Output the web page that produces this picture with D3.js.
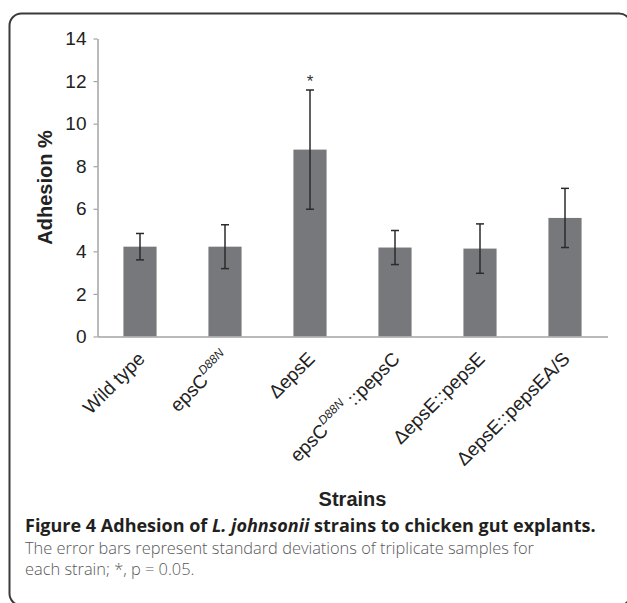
<!DOCTYPE html>
<html lang="en">
<meta charset="utf-8">
<head>
    <script src="https://d3js.org/d3.v7.min.js"></script>
    <style>
        body { margin: 0; background: #fff; }
        svg { display: block; }
    </style>
</head>
<body>
<script>

// strains (x categories) and their measured adhesion
const strains = ["Wild type", "epsC D88N", "ΔepsE", "epsC D88N::pepsC", "ΔepsE::pepsE", "ΔepsE::pepsEA/S"];
const adhesion = [4.22, 4.22, 8.78, 4.18, 4.13, 5.57];
const stdev = [0.62, 1.03, 2.8, 0.8, 1.16, 1.39];
const stars = ["", "", "*", "", "", ""];
const yTicks = [0, 2, 4, 6, 8, 10, 12, 14];

// label pieces, superscripts flagged
const labelParts = [
    [{t: "Wild type"}],
    [{t: "epsC"}, {t: "D88N", sup: true}],
    [{t: "ΔepsE"}],
    [{t: "epsC"}, {t: "D88N", sup: true}, {t: " ::pepsC"}],
    [{t: "ΔepsE::pepsE"}],
    [{t: "ΔepsE::pepsEA/S"}]
];

const width = 627, height = 603;

const svg = d3.select("body").append("svg")
    .attr("width", width)
    .attr("height", height);

// frame of the figure panel
svg.append("rect")
    .attr("x", 9.5).attr("y", 13.5)
    .attr("width", 621.5).attr("height", 592)
    .attr("rx", 12)
    .attr("fill", "none")
    .attr("stroke", "#3a3a3a")
    .attr("stroke-width", 2);

const x = d3.scaleBand()
    .domain(strains)
    .range([97.5, 607.5])
    .paddingInner(0.61)
    .paddingOuter(0.305);

const y = d3.scaleLinear()
    .domain([0, 14])
    .range([336.5, 38.5]);

// y axis
const yAxis = svg.append("g")
    .attr("transform", "translate(97.5,0)")
    .call(d3.axisLeft(y).tickValues(yTicks).tickSize(4).tickPadding(7).tickSizeOuter(0));
yAxis.select(".domain").attr("stroke", "#a3a3a3").attr("stroke-width", 1.5);
yAxis.selectAll(".tick line").attr("stroke", "#a3a3a3").attr("stroke-width", 1.2);
yAxis.selectAll(".tick text")
    .attr("font-family", "Liberation Sans, Arial, sans-serif")
    .attr("font-size", 19)
    .attr("fill", "#222");

// bars
svg.selectAll("rect.bar")
    .data(strains)
    .join("rect")
    .attr("class", "bar")
    .attr("x", d => x(d))
    .attr("width", x.bandwidth())
    .attr("y", (d, i) => y(adhesion[i]))
    .attr("height", (d, i) => y(0) - y(adhesion[i]))
    .attr("fill", "#77787b");

// x axis line
svg.append("g")
    .attr("transform", `translate(0,${y(0)})`)
    .call(d3.axisBottom(x).tickSize(0).tickFormat(""))
    .select(".domain").attr("stroke", "#a3a3a3").attr("stroke-width", 1.5);

// error bars
const cap = 4;
const err = svg.append("g").attr("stroke", "#2b2b2b").attr("stroke-width", 1.5);
strains.forEach((d, i) => {
    const cx = x(d) + x.bandwidth() / 2;
    const hi = y(adhesion[i] + stdev[i]), lo = y(adhesion[i] - stdev[i]);
    err.append("line").attr("x1", cx).attr("x2", cx).attr("y1", hi).attr("y2", lo);
    err.append("line").attr("x1", cx - cap).attr("x2", cx + cap).attr("y1", hi).attr("y2", hi);
    err.append("line").attr("x1", cx - cap).attr("x2", cx + cap).attr("y1", lo).attr("y2", lo);
    if (stars[i]) {
        svg.append("text")
            .attr("x", cx).attr("y", hi - 3)
            .attr("text-anchor", "middle")
            .attr("font-family", "Liberation Sans, Arial, sans-serif")
            .attr("font-size", 17)
            .attr("fill", "#333")
            .text(stars[i]);
    }
});

// rotated category labels
strains.forEach((d, i) => {
    const ax = x(d) + x.bandwidth() / 2 + 6, ay = 360;
    const t = svg.append("text")
        .attr("transform", `translate(${ax},${ay}) rotate(-45)`)
        .attr("text-anchor", "end")
        .attr("font-family", "Liberation Sans, Arial, sans-serif")
        .attr("font-size", 19)
        .attr("fill", "#222");
    let shifted = false;
    labelParts[i].forEach(p => {
        const s = t.append("tspan").text(p.t);
        if (p.sup) {
            s.attr("font-size", 12).attr("font-style", "italic").attr("dy", -9);
            shifted = true;
        } else if (shifted) {
            s.attr("dy", 9);
            shifted = false;
        }
    });
});

// axis titles
svg.append("text")
    .attr("transform", `translate(52,${(y(0) + y(14)) / 2}) rotate(-90)`)
    .attr("text-anchor", "middle")
    .attr("font-family", "Liberation Sans, Arial, sans-serif")
    .attr("font-weight", "bold")
    .attr("font-size", 20)
    .attr("fill", "#222")
    .text("Adhesion %");

svg.append("text")
    .attr("x", (x.range()[0] + x.range()[1]) / 2)
    .attr("y", 506)
    .attr("text-anchor", "middle")
    .attr("font-family", "Liberation Sans, Arial, sans-serif")
    .attr("font-weight", "bold")
    .attr("font-size", 20)
    .attr("fill", "#222")
    .text("Strains");

// caption
const caption = svg.append("g").attr("font-family", "Open Sans, sans-serif");
const c1 = caption.append("text")
    .attr("x", 25).attr("y", 532)
    .attr("font-size", 18)
    .attr("font-weight", 700)
    .attr("fill", "#231f20");
c1.append("tspan").text("Figure 4 Adhesion of ");
c1.append("tspan").attr("font-style", "italic").text("L. johnsonii");
c1.append("tspan").text(" strains to chicken gut explants.");

caption.append("text")
    .attr("x", 25).attr("y", 554)
    .attr("font-size", 16.4)
    .attr("font-weight", 300)
    .attr("fill", "#58595b")
    .text("The error bars represent standard deviations of triplicate samples for");

caption.append("text")
    .attr("x", 25).attr("y", 575)
    .attr("font-size", 16.4)
    .attr("font-weight", 300)
    .attr("fill", "#58595b")
    .text("each strain; *, p = 0.05.");

</script>
</body>
</html>
